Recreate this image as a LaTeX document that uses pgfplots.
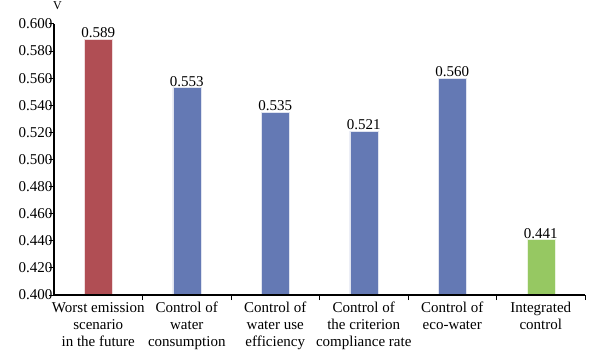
\documentclass[border=0pt]{standalone}
\usepackage{fontspec}
\setmainfont{Liberation Serif}
\usepackage{pgfplots}
\pgfplotsset{compat=1.18}
\definecolor{cred}{RGB}{176,78,84}
\definecolor{cblue}{RGB}{100,121,180}
\definecolor{cgreen}{RGB}{150,200,98}
\begin{document}
\begin{tikzpicture}
\begin{axis}[
  name=ax,
  scale only axis,
  width=531bp, height=271bp,
  font=\fontsize{15bp}{17bp}\selectfont,
  tick label style={font=\fontsize{15bp}{17bp}\selectfont},
  /pgf/number format/assume math mode=true,
  ymin=0.4, ymax=0.6,
  ytick={0.40,0.42,...,0.601},
  yticklabel={\pgfmathprintnumber[fixed,precision=3,zerofill]{\tick}},
  yticklabel style={inner sep=0.5pt, xshift=-1bp},
  xmin=-0.5, xmax=5.5,
  axis x line*=bottom, axis y line*=left,
  every tick/.style={draw=black, line width=1pt},
  tick align=inside,
  major tick length=5bp,
  ytick style={xshift=-5bp},
  xtick={0.5,1.5,2.5,3.5,4.5,5.5},
  xticklabels={{Worst emission\\scenario\\in the future},{Control of\\water\\consumption},{Control of\\water use\\efficiency},{Control of\\the criterion\\compliance rate},{Control of\\eco-water},{Integrated\\control}},
  xticklabel style={align=center, inner sep=1pt, xshift=-44.25bp, yshift=-1bp},
  ybar, bar width=28bp, bar shift=0pt,
  nodes near coords,
  nodes near coords style={/pgf/number format/.cd, fixed, precision=3, zerofill, /tikz/.cd, font=\fontsize{15bp}{17bp}\selectfont, inner sep=1pt},
  clip=false,
]
\addplot[fill=cred, draw=white!80!cred] coordinates {(0,0.589)};
\addplot[fill=cblue, draw=white!80!cblue] coordinates {(1,0.553) (2,0.535) (3,0.521) (4,0.560)};
\addplot[fill=cgreen, draw=white!80!cgreen] coordinates {(5,0.441)};
\node[anchor=south, inner sep=0pt, font=\fontsize{12bp}{13bp}\selectfont] at ([xshift=3.5bp, yshift=14bp]rel axis cs:0,1) {V};
\path ([xshift=-54bp, yshift=24bp]rel axis cs:0,1) ([xshift=12bp]rel axis cs:1,0);
\end{axis}
\draw[black, line width=1.2pt, line join=miter] (ax.north west) -- (ax.south west) -- (ax.south east);
\end{tikzpicture}
\end{document}
